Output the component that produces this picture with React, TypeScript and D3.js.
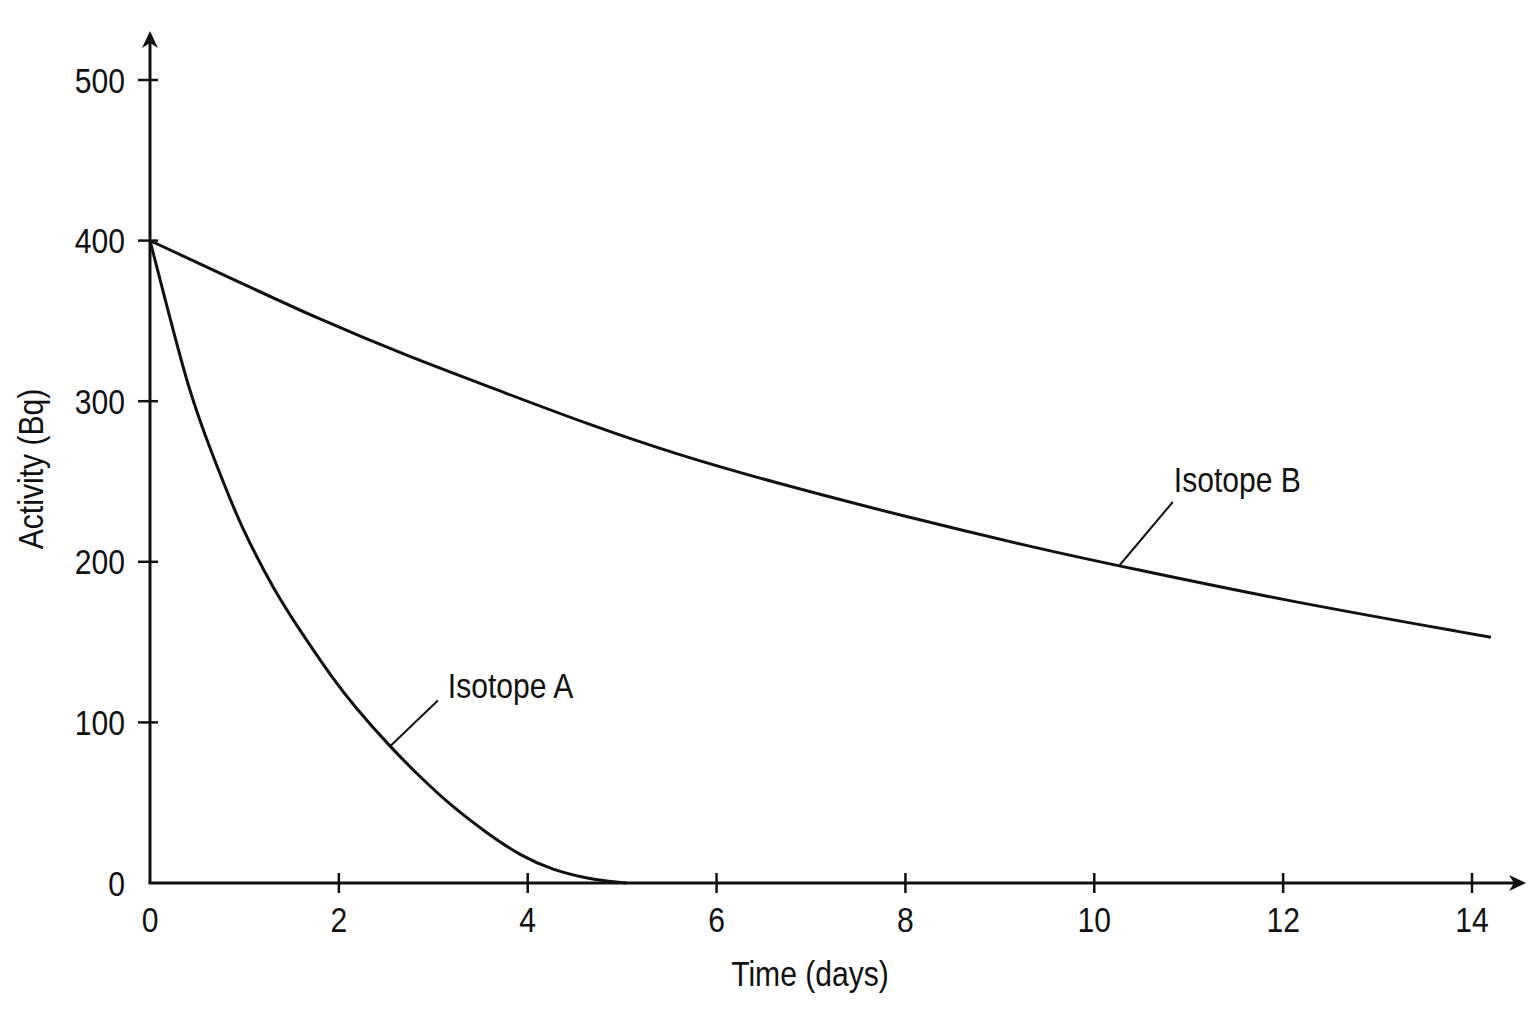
import { useEffect, useRef } from "react";
import * as d3 from "d3";

// values
const daysA = [0, 0.25, 0.42, 0.6, 0.78, 0.95, 1.31, 1.66, 1.94, 2.15, 2.54, 2.86, 3.21, 3.57, 3.92, 4.27, 4.62, 4.87, 5.05];
const activityA = [400, 343, 306, 276, 249, 224, 182, 151, 127, 111, 85, 66, 47, 31, 17, 8, 3, 0.8, 0];

const daysB = [0, 0.84, 1.79, 2.73, 3.68, 4.62, 5.57, 6.51, 8, 9.5, 10.3, 12, 14.2];
const activityB = [400, 377, 351, 328, 307, 286, 267, 251, 228, 207, 197, 176, 153];

const xTicks = [0, 2, 4, 6, 8, 10, 12, 14];
const yTicks = [0, 100, 200, 300, 400, 500];

const labelNames = ["Isotope A", "Isotope B"];
const labelAnchorDays = [2.54, 10.27];
const labelAnchorValues = [85, 198];

const FONT = "'Liberation Sans', Arial, Helvetica, sans-serif";

export default function App(): JSX.Element {
  const ref = useRef<SVGSVGElement | null>(null);

  useEffect(() => {
    if (!ref.current) return;
    const width = 1536;
    const height = 1024;
    const x = d3.scaleLinear().domain([0, 14]).range([150, 1472]);
    const y = d3.scaleLinear().domain([0, 500]).range([883, 80]);

    const svg = d3.select(ref.current).attr("width", width).attr("height", height);
    svg.selectAll("*").remove();
    svg.append("rect").attr("width", width).attr("height", height).attr("fill", "#fff");

    // condensed text, like the reference's narrow sans
    const label = (
      px: number,
      py: number,
      text: string,
      anchor: string,
      rotate = 0,
    ) => {
      const g = svg
        .append("g")
        .attr("transform", `translate(${px},${py}) rotate(${rotate}) scale(0.86,1)`);
      g.append("text")
        .attr("text-anchor", anchor)
        .attr("font-family", FONT)
        .attr("font-size", 35)
        .attr("fill", "#111")
        .text(text);
    };

    const x0 = x(0);
    const y0 = y(0);

    // axes
    svg
      .append("line")
      .attr("x1", x0)
      .attr("y1", y0)
      .attr("x2", x0)
      .attr("y2", 40)
      .attr("stroke", "#111")
      .attr("stroke-width", 3);
    svg
      .append("line")
      .attr("x1", x0 - 1.5)
      .attr("y1", y0)
      .attr("x2", 1515)
      .attr("y2", y0)
      .attr("stroke", "#111")
      .attr("stroke-width", 3);
    svg
      .append("path")
      .attr("d", `M${x0},31 L${x0 + 8},48 L${x0},43 L${x0 - 8},48 Z`)
      .attr("fill", "#111");
    svg
      .append("path")
      .attr("d", `M1526,${y0} L1509,${y0 - 8} L1514,${y0} L1509,${y0 + 8} Z`)
      .attr("fill", "#111");

    // ticks
    svg
      .append("g")
      .selectAll("line")
      .data(yTicks.filter((t) => t > 0))
      .join("line")
      .attr("x1", x0 - 12)
      .attr("x2", x0 + 8)
      .attr("y1", (d) => y(d))
      .attr("y2", (d) => y(d))
      .attr("stroke", "#111")
      .attr("stroke-width", 2.5);
    svg
      .append("g")
      .selectAll("line")
      .data(xTicks.filter((t) => t > 0))
      .join("line")
      .attr("x1", (d) => x(d))
      .attr("x2", (d) => x(d))
      .attr("y1", y0 - 10)
      .attr("y2", y0 + 10)
      .attr("stroke", "#111")
      .attr("stroke-width", 2.5);

    yTicks.forEach((t) => label(125, y(t) + 12.5, String(t), "end"));
    xTicks.forEach((t) => label(x(t), 932, String(t), "middle"));

    label(810, 986, "Time (days)", "middle");
    label(43, 469, "Activity (Bq)", "middle", -90);

    // curves (basis smooths out the reading noise)
    const line = d3
      .line<[number, number]>()
      .x((d) => x(d[0]))
      .y((d) => y(d[1]))
      .curve(d3.curveBasis);

    const seriesA = daysA.map((d, i) => [d, activityA[i]] as [number, number]);
    const seriesB = daysB.map((d, i) => [d, activityB[i]] as [number, number]);

    [seriesA, seriesB].forEach((s) => {
      svg
        .append("path")
        .attr("d", line(s) ?? "")
        .attr("fill", "none")
        .attr("stroke", "#111")
        .attr("stroke-width", 3)
        .attr("stroke-linejoin", "round");
    });

    // leader lines + labels
    const leaderDx = [48, 53];
    const leaderDy = [-46, -63];
    const textDx = [58, 54];
    const textDy = [-48, -73];
    labelNames.forEach((name, i) => {
      const ax = x(labelAnchorDays[i]);
      const ay = y(labelAnchorValues[i]);
      svg
        .append("line")
        .attr("x1", ax)
        .attr("y1", ay)
        .attr("x2", ax + leaderDx[i])
        .attr("y2", ay + leaderDy[i])
        .attr("stroke", "#111")
        .attr("stroke-width", 2);
      label(ax + textDx[i], ay + textDy[i], name, "start");
    });
  }, []);

  return (
    <svg
      ref={ref}
      style={{ position: "absolute", left: 0, top: 0, display: "block" }}
    />
  );
}
